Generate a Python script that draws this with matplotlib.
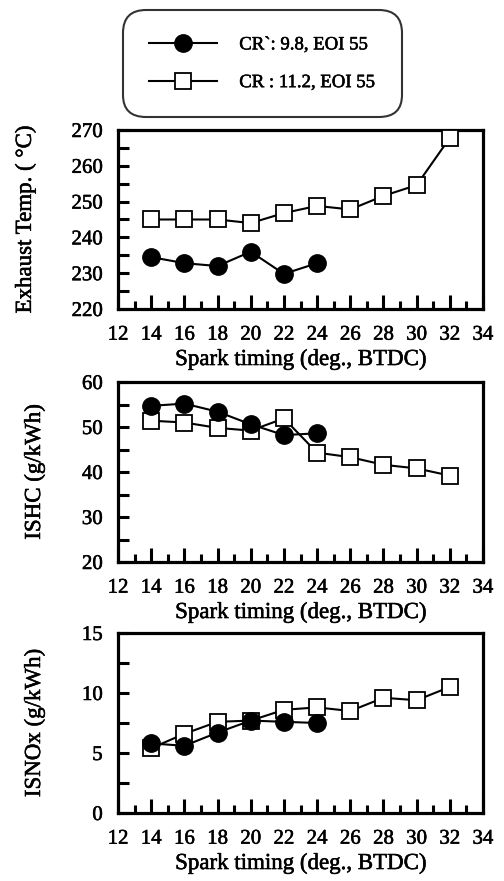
import matplotlib
matplotlib.use("Agg")
import matplotlib.pyplot as plt
import matplotlib.patheffects as pe
from matplotlib.lines import Line2D
from matplotlib.ticker import MultipleLocator

plt.rcParams['font.family'] = ['Liberation Serif', 'DejaVu Serif']

# Spark timing sweeps (deg. BTDC)
spark_cr98 = [14, 16, 18, 20, 22, 24]
spark_cr112 = [14, 16, 18, 20, 22, 24, 26, 28, 30, 32]

# Exhaust temperature (deg C)
temp_cr98 = [234.5, 232.8, 232.0, 236.0, 229.8, 232.8]
temp_cr112 = [245.0, 245.0, 245.0, 244.0, 246.8, 248.8, 247.8, 251.6, 254.6, 267.8]

# Indicated specific HC (g/kWh)
ishc_cr98 = [54.7, 55.2, 53.4, 50.6, 48.2, 48.6]
ishc_cr112 = [51.4, 51.0, 49.8, 49.2, 51.9, 44.3, 43.3, 41.6, 40.8, 39.2]

# Indicated specific NOx (g/kWh)
isnox_cr98 = [5.8, 5.6, 6.7, 7.7, 7.6, 7.5]
isnox_cr112 = [5.4, 6.6, 7.6, 7.7, 8.6, 8.8, 8.5, 9.6, 9.4, 10.5]

labels = ["CR`: 9.8, EOI 55", "CR : 11.2, EOI 55"]
xlabel = "Spark timing (deg., BTDC)"
ylabels = ["Exhaust Temp. ( \u00b0C)", "ISHC (g/kWh)", "ISNOx (g/kWh)"]
ylims = [(220, 270), (20, 60), (0, 15)]
ymajor = [10, 10, 5]
yminor = [5, 5, 2.5]

# slightly heavier strokes for all text
ink = [pe.withStroke(linewidth=0.4, foreground='black')]

fig = plt.figure(figsize=(5.04, 8.81), dpi=100)
W, H = 504, 881

def frac_rect(x0, y_top, x1, y_bot):
    return [x0 / W, 1 - y_bot / H, (x1 - x0) / W, (y_bot - y_top) / H]

rects = [frac_rect(118, 130, 483, 309),
         frac_rect(118, 382, 483, 562),
         frac_rect(118, 633, 483, 813)]

series = [(temp_cr98, temp_cr112), (ishc_cr98, ishc_cr112), (isnox_cr98, isnox_cr112)]
ylabel_x = [-0.225, -0.2, -0.2]

line_kw = dict(color='black', lw=1.5)
sq_kw = dict(marker='s', ms=11.5, mfc='white', mec='black', mew=1.3)
dot_kw = dict(marker='o', ms=12.5, mfc='black', mec='black')

for i, (rect, (a, b)) in enumerate(zip(rects, series)):
    ax = fig.add_axes(rect)
    ax.plot(spark_cr112, b, zorder=3, **sq_kw, **line_kw)
    ax.plot(spark_cr98, a, zorder=4, **dot_kw, **line_kw)
    ax.set_xlim(12, 34)
    ax.set_ylim(*ylims[i])
    ax.xaxis.set_major_locator(MultipleLocator(2))
    ax.xaxis.set_minor_locator(MultipleLocator(1))
    ax.yaxis.set_major_locator(MultipleLocator(ymajor[i]))
    ax.yaxis.set_minor_locator(MultipleLocator(yminor[i]))
    ax.tick_params(axis='x', which='major', direction='in', length=10, width=2.2,
                   labelsize=15, pad=12)
    ax.tick_params(axis='x', which='minor', direction='in', length=6, width=2.2)
    ax.tick_params(axis='y', which='both', direction='in', length=8, width=2.2,
                   labelsize=15, pad=11)
    for s in ax.spines.values():
        s.set_linewidth(2.3)
    ax.set_xlabel(xlabel, fontsize=16.5, labelpad=3)
    ax.set_ylabel(ylabels[i], fontsize=16.5)
    ax.yaxis.set_label_coords(ylabel_x[i], 0.5)
    for t in ax.get_xticklabels() + ax.get_yticklabels() + [ax.xaxis.label, ax.yaxis.label]:
        t.set_path_effects(ink)

# legend box
handles = [Line2D([], [], **dot_kw, **line_kw),
           Line2D([], [], **sq_kw, **line_kw)]
leg = fig.legend(handles, labels, loc='upper left',
                 bbox_to_anchor=(123 / W, 1 - 10 / H), fontsize=13.5,
                 handlelength=3.6, handletextpad=1.2, borderpad=1.4,
                 labelspacing=1.1, frameon=True, fancybox=True, borderaxespad=0)
for t in leg.get_texts():
    t.set_path_effects(ink)
frame = leg.get_frame()
frame.set_edgecolor('black')
frame.set_linewidth(1.5)
frame.set_boxstyle('round', pad=0, rounding_size=1.2)

fig.savefig("out.png", dpi=100)
